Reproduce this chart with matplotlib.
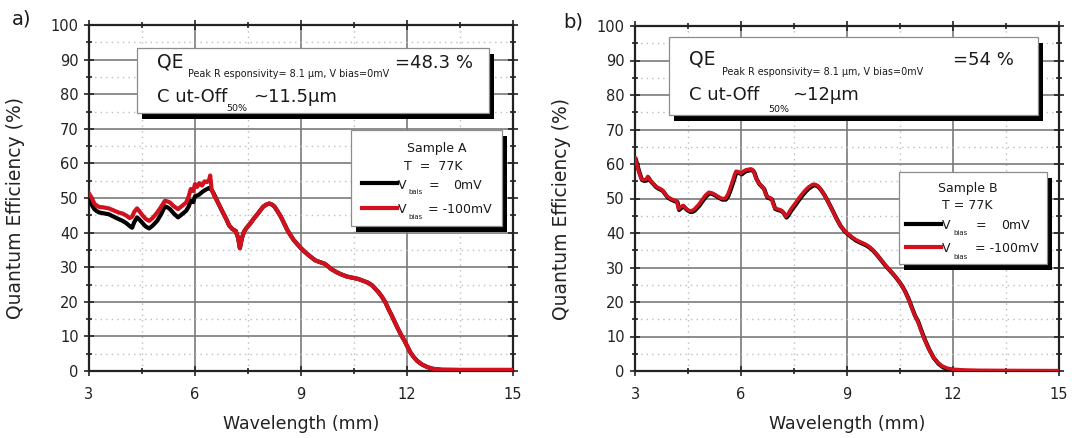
import matplotlib
matplotlib.use("Agg")
import matplotlib.pyplot as plt
import matplotlib.transforms as mtransforms
from matplotlib.patches import Rectangle
from matplotlib.ticker import MultipleLocator

plt.rcParams['font.family'] = ['DejaVu Sans']

# ---------------- Sample A ----------------
# short-wavelength part, where the two bias curves differ
a_red_head_wl = [3.00, 3.08, 3.15, 3.22, 3.29, 3.40, 3.56, 3.70, 3.84, 3.95, 4.06, 4.15,
                 4.22, 4.28, 4.36, 4.44, 4.52, 4.60, 4.70, 4.80, 4.93, 5.05, 5.15, 5.22,
                 5.29, 5.40, 5.52, 5.62, 5.75, 5.82, 5.88, 5.95, 6.00, 6.06, 6.12, 6.20,
                 6.27, 6.34, 6.40, 6.43, 6.47, 6.55, 6.65, 6.72]
a_red_head_qe = [51.3, 50.0, 48.4, 47.8, 47.4, 47.3, 47.0, 46.4, 45.8, 45.5, 44.9, 44.2,
                 44.6, 46.0, 47.0, 46.0, 44.9, 44.0, 43.4, 44.2, 45.8, 47.6, 49.2, 49.0,
                 48.7, 47.6, 46.8, 47.6, 48.7, 50.4, 52.6, 52.0, 54.0, 53.2, 54.3, 53.6,
                 54.8, 54.6, 55.3, 56.5, 52.5, 50.5, 48.7, 47.3]
a_blk_head_wl = [3.00, 3.08, 3.15, 3.22, 3.29, 3.40, 3.56, 3.70, 3.84, 3.95, 4.06, 4.15,
                 4.22, 4.28, 4.36, 4.44, 4.52, 4.60, 4.70, 4.80, 4.93, 5.05, 5.15, 5.22,
                 5.29, 5.40, 5.52, 5.62, 5.75, 5.82, 5.88, 5.95, 6.00, 6.06, 6.12, 6.20,
                 6.27, 6.34, 6.40, 6.45, 6.52, 6.60, 6.68, 6.75]
a_blk_head_qe = [49.7, 48.0, 46.8, 46.2, 45.8, 45.6, 45.3, 44.6, 43.9, 43.4, 42.7, 41.9,
                 41.4, 43.0, 44.4, 43.6, 42.7, 41.8, 41.2, 42.0, 43.4, 45.5, 47.6, 47.3,
                 46.8, 45.5, 44.4, 45.2, 46.3, 47.5, 49.2, 48.8, 50.5, 50.7, 51.0, 51.7,
                 52.2, 52.6, 52.9, 52.6, 51.5, 49.8, 48.0, 46.6]
# long-wavelength part, common to both bias voltages
a_tail_wl = [6.79, 6.88, 6.97, 7.06, 7.15, 7.22, 7.27, 7.33, 7.39, 7.47, 7.57, 7.66,
             7.75, 7.84, 7.93, 8.02, 8.10, 8.18, 8.25, 8.34, 8.43, 8.52, 8.61, 8.70,
             8.79, 8.90, 9.00, 9.10, 9.20, 9.30, 9.40, 9.50, 9.67, 9.76, 9.85, 10.00,
             10.12, 10.30, 10.48, 10.62, 10.75, 10.90, 11.02, 11.10, 11.20, 11.30, 11.39,
             11.48, 11.57, 11.66, 11.75, 11.84, 11.93, 12.02, 12.10, 12.20, 12.29, 12.42,
             12.56, 12.70, 12.83, 13.00, 13.50, 14.00, 14.50, 15.00]
a_tail_qe = [45.8, 44.0, 42.0, 41.0, 40.5, 38.5, 35.5, 38.5, 40.3, 41.5, 42.7, 44.0,
             45.1, 46.3, 47.5, 48.1, 48.4, 48.1, 47.5, 46.1, 44.6, 42.7, 40.8, 39.3,
             37.9, 36.6, 35.5, 34.5, 33.6, 32.8, 32.0, 31.6, 31.0, 30.3, 29.5, 28.6,
             28.0, 27.3, 26.9, 26.6, 26.1, 25.5, 24.7, 23.8, 22.7, 21.3, 19.8,
             17.8, 16.0, 14.0, 12.1, 10.3, 8.7, 6.9, 5.3, 3.9, 2.9, 1.9,
             1.2, 0.7, 0.5, 0.35, 0.3, 0.3, 0.3, 0.3]

# ---------------- Sample B ----------------
b_wl = [3.00, 3.05, 3.09, 3.14, 3.18, 3.25, 3.32, 3.36, 3.42, 3.50, 3.57, 3.64, 3.70,
        3.77, 3.84, 3.91, 4.00, 4.09, 4.18, 4.23, 4.28, 4.36, 4.45, 4.55, 4.62, 4.68,
        4.80, 4.91, 5.00, 5.09, 5.18, 5.27, 5.36, 5.45, 5.55, 5.62, 5.68, 5.76, 5.82,
        5.86, 5.92, 6.00, 6.07, 6.14, 6.20, 6.27, 6.32, 6.36, 6.42, 6.50, 6.57, 6.64,
        6.69, 6.73, 6.80, 6.86, 6.91, 6.95, 7.02, 7.09, 7.14, 7.18, 7.23, 7.27, 7.32,
        7.41, 7.52, 7.63, 7.72, 7.81, 7.91, 8.03, 8.10, 8.17, 8.26, 8.35, 8.46, 8.57,
        8.68, 8.79, 8.90, 9.00, 9.12, 9.24, 9.38, 9.51, 9.62, 9.73, 9.85, 9.95, 10.05,
        10.18, 10.32, 10.45, 10.55, 10.64, 10.72, 10.81, 10.90, 11.00, 11.08, 11.18,
        11.30, 11.43, 11.57, 11.70, 11.84, 12.00, 12.30, 12.70, 13.50, 15.00]
b_qe = [61.7, 60.0, 58.4, 56.8, 55.7, 55.4, 55.6, 56.4, 55.4, 54.5, 53.7, 53.2, 52.9,
        52.5, 51.5, 50.6, 50.0, 49.6, 49.3, 47.0, 47.5, 48.0, 47.0, 46.4, 46.5, 46.9,
        48.2, 49.8, 51.0, 51.8, 51.6, 51.1, 50.5, 50.0, 50.0, 51.0, 52.6, 55.0, 57.0,
        57.9, 57.8, 57.3, 57.9, 58.3, 58.4, 58.6, 58.4, 57.8, 56.0, 54.5, 53.8, 53.0,
        51.5, 50.6, 50.3, 50.0, 48.5, 47.3, 47.0, 46.8, 46.6, 46.2, 45.4, 44.8, 45.4,
        46.9, 48.4, 50.0, 51.2, 52.3, 53.3, 54.1, 54.1, 53.7, 52.6, 51.2, 49.1, 46.9,
        44.6, 42.5, 41.0, 40.0, 39.0, 38.1, 37.4, 36.8, 36.1, 35.1, 33.7, 32.4, 31.1,
        29.6, 28.0, 26.3, 24.8, 23.1, 21.3, 18.9, 16.5, 14.5, 12.2, 9.5,
        6.7, 4.2, 2.4, 1.4, 0.8, 0.5, 0.3, 0.2, 0.15, 0.1]

RED = '#d2111e'
BLACK = '#000000'
LW = 3.0

fig = plt.figure(figsize=(10.92, 4.38), dpi=100)
ax_a = fig.add_axes([89 / 1092, 67 / 438, 424 / 1092, 346 / 438])
ax_b = fig.add_axes([635 / 1092, 67 / 438, 424 / 1092, 345 / 438])


def style_axes(ax):
    ax.set_xlim(3, 15)
    ax.set_ylim(0, 100)
    ax.xaxis.set_major_locator(MultipleLocator(3))
    ax.xaxis.set_minor_locator(MultipleLocator(1.5))
    ax.yaxis.set_major_locator(MultipleLocator(10))
    ax.yaxis.set_minor_locator(MultipleLocator(5))
    ax.grid(which='major', color='#7a7a7a', lw=1.2, ls='-')
    ax.grid(which='minor', color='#bdbdbd', lw=1.0, ls=(0, (1, 3)))
    ax.set_axisbelow(True)
    ax.tick_params(which='both', direction='inout', top=True, right=True,
                   width=1.2, color='#222222', labelcolor='#222222')
    ax.tick_params(which='major', length=7)
    ax.tick_params(which='minor', length=5)
    ax.tick_params(axis='x', pad=8, labelsize=10.5)
    ax.tick_params(axis='y', pad=4, labelsize=10.5)
    for s in ax.spines.values():
        s.set_linewidth(1.6)
        s.set_color('#222222')
    ax.set_xlabel('Wavelength (mm)', fontsize=12.5, color='#222222')
    ax.set_ylabel('Quantum Efficiency (%)', fontsize=13.5, color='#222222')
    ax.xaxis.set_label_coords(0.5, -0.128)
    ax.yaxis.set_label_coords(-0.151, 0.47)


def shadow_box(ax, x0, y0, x1, y1, dx=5, dy=-6):
    shadow_tr = mtransforms.offset_copy(ax.transData, fig=fig, x=dx, y=dy, units='dots')
    ax.add_patch(Rectangle((x0, y0), x1 - x0, y1 - y0, transform=shadow_tr,
                           fc='black', ec='none', zorder=5, clip_on=False))
    ax.add_patch(Rectangle((x0, y0), x1 - x0, y1 - y0, fc='white', ec='#8c8c8c',
                           lw=0.9, zorder=6, clip_on=False))


def txt(ax, x, y, s, size, **kw):
    ax.text(x, y, s, fontsize=size, va='baseline', zorder=7, color='#1a1a1a', **kw)


# ---------------- panel a ----------------
style_axes(ax_a)
ax_a.plot(a_blk_head_wl + a_tail_wl, a_blk_head_qe + a_tail_qe, color=BLACK, lw=LW,
          solid_joinstyle='round', zorder=3)
ax_a.plot(a_red_head_wl + a_tail_wl, a_red_head_qe + a_tail_qe, color=RED, lw=LW,
          solid_joinstyle='round', zorder=4)

shadow_box(ax_a, 4.36, 74.6, 14.32, 93.4)
txt(ax_a, 4.92, 87.6, 'QE', 13.5)
txt(ax_a, 5.80, 85.0, 'Peak R esponsivity= 8.1 µm, V bias=0mV', 6.9)
txt(ax_a, 11.66, 87.6, '=48.3 %', 13)
txt(ax_a, 4.92, 77.7, 'C ut-Off', 13)
txt(ax_a, 6.88, 75.1, '50%', 6.8)
txt(ax_a, 7.64, 77.7, '~11.5µm', 13)

shadow_box(ax_a, 10.42, 42.0, 14.70, 69.7)
txt(ax_a, 12.84, 63.4, 'Sample A', 9, ha='center')
txt(ax_a, 12.74, 58.1, 'T  =  77K', 9, ha='center')
ax_a.plot([10.72, 11.71], [54.4, 54.4], color=BLACK, lw=LW, zorder=7)
ax_a.plot([10.72, 11.71], [47.0, 47.0], color=RED, lw=LW, zorder=7)
txt(ax_a, 11.73, 52.7, 'V', 9)
txt(ax_a, 12.04, 51.1, 'bais', 5)
txt(ax_a, 12.60, 52.7, '=', 9)
txt(ax_a, 14.12, 52.7, '0mV', 9, ha='right')
txt(ax_a, 11.73, 45.6, 'V', 9)
txt(ax_a, 12.04, 44.0, 'bias', 5)
txt(ax_a, 12.60, 45.6, '= -100mV', 9)

# ---------------- panel b ----------------
style_axes(ax_b)
blk_shift = mtransforms.offset_copy(ax_b.transData, fig=fig, x=0.7, y=-1.1, units='dots')
ax_b.plot(b_wl, b_qe, color=BLACK, lw=LW, solid_joinstyle='round', zorder=3,
          transform=blk_shift)
ax_b.plot(b_wl, b_qe, color=RED, lw=LW - 0.4, solid_joinstyle='round', zorder=4)

shadow_box(ax_b, 3.96, 74.2, 14.41, 96.8)
txt(ax_b, 4.54, 88.7, 'QE', 13.5)
txt(ax_b, 5.45, 85.8, 'Peak R esponsivity= 8.1 µm, V bias=0mV', 6.9)
txt(ax_b, 12.01, 88.7, '=54 %', 13)
txt(ax_b, 4.54, 78.6, 'C ut-Off', 13)
txt(ax_b, 6.76, 75.2, '50%', 6.8)
txt(ax_b, 7.46, 78.6, '~12µm', 13)

shadow_box(ax_b, 10.46, 30.9, 14.66, 57.6)
txt(ax_b, 12.42, 52.0, 'Sample B', 9, ha='center')
txt(ax_b, 12.39, 46.9, 'T = 77K', 9, ha='center')
ax_b.plot([10.67, 11.66], [42.6, 42.6], color=BLACK, lw=LW, zorder=7)
ax_b.plot([10.67, 11.66], [35.9, 35.9], color=RED, lw=LW, zorder=7)
txt(ax_b, 11.69, 41.2, 'V', 9)
txt(ax_b, 12.00, 39.3, 'bias', 5)
txt(ax_b, 12.65, 41.2, '=', 9)
txt(ax_b, 14.16, 41.2, '0mV', 9, ha='right')
txt(ax_b, 11.69, 34.4, 'V', 9)
txt(ax_b, 12.00, 32.6, 'bias', 5)
txt(ax_b, 12.62, 34.4, '= -100mV', 9)

fig.text(12 / 1092, 1 - 19 / 438, 'a)', fontsize=14, va='center', color='#1a1a1a')
fig.text(563 / 1092, 1 - 22 / 438, 'b)', fontsize=14, va='center', color='#1a1a1a')

fig.savefig('out.png', dpi=100)
